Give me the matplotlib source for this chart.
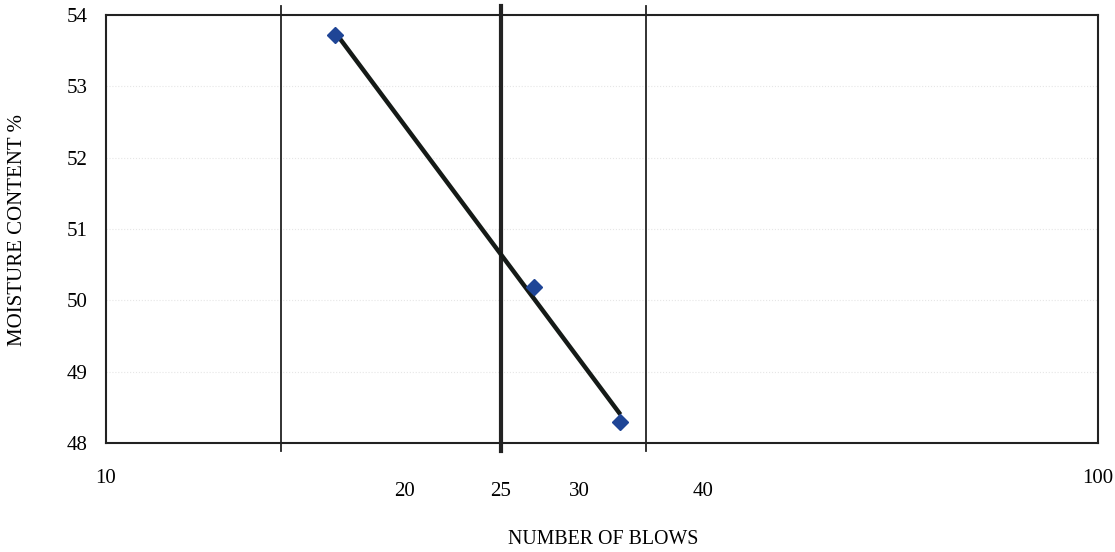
import numpy as np
import matplotlib
matplotlib.use('Agg')
import matplotlib.pyplot as plt
import matplotlib.transforms as mtransforms

# Liquid limit test readings
blows = [17, 27, 33]
moisture = [53.72, 50.18, 48.29]

# Reference lines (number of blows)
thin_lines = [15, 35]
liquid_limit_blows = 25

major_ticks = [10, 100]
minor_ticks = [20, 25, 30, 40]
y_ticks = [48, 49, 50, 51, 52, 53, 54]

plt.rcParams['font.family'] = ['Liberation Serif', 'DejaVu Serif']

fig = plt.figure(figsize=(11.15, 5.52), dpi=100)
ax = fig.add_axes([0.0951, 0.1975, 0.8897, 0.7753])

ax.set_xscale('log')
ax.set_xlim(10, 100)
ax.set_ylim(48, 54)

# faint dotted grid
ax.grid(True, which='major', axis='y', color='#e6e6e6', linestyle=':', linewidth=0.8)

# vertical reference lines, extending slightly past the frame
trans = mtransforms.blended_transform_factory(ax.transData, ax.transAxes)
for xv in thin_lines:
    ax.plot([xv, xv], [-0.019, 1.021], color='#222222', lw=1.3, transform=trans, clip_on=False, zorder=2)
ax.plot([liquid_limit_blows] * 2, [-0.019, 1.021], color='#222222', lw=3.0, transform=trans,
        clip_on=False, zorder=2)

# log trendline through the readings
coef = np.polyfit(np.log(blows), moisture, 1)
xs = np.array([min(blows), max(blows)])
ax.plot(xs, coef[0] * np.log(xs) + coef[1], color='#151a17', lw=3.2, zorder=3, solid_capstyle='butt')

ax.plot(blows, moisture, linestyle='none', marker='D', markersize=8, color='#1f4596', zorder=4)

ax.set_xticks(major_ticks)
ax.set_xticklabels([str(t) for t in major_ticks])
ax.set_xticks(minor_ticks, minor=True)
ax.set_xticklabels([str(t) for t in minor_ticks], minor=True)
ax.tick_params(axis='x', which='major', length=0, pad=19, labelsize=15)
ax.tick_params(axis='x', which='minor', length=0, pad=28, labelsize=15)
ax.set_yticks(y_ticks)
ax.tick_params(axis='y', length=0, pad=13, labelsize=15)

for s in ax.spines.values():
    s.set_linewidth(1.5)
    s.set_color('#222222')

fig.text(0.0161, 0.583, 'MOISTURE CONTENT %', rotation=90, ha='center', va='center', fontsize=15)
fig.text(0.541, 0.022, 'NUMBER OF BLOWS', ha='center', va='center', fontsize=14.3)

fig.savefig('out.png', dpi=100, facecolor='white')
